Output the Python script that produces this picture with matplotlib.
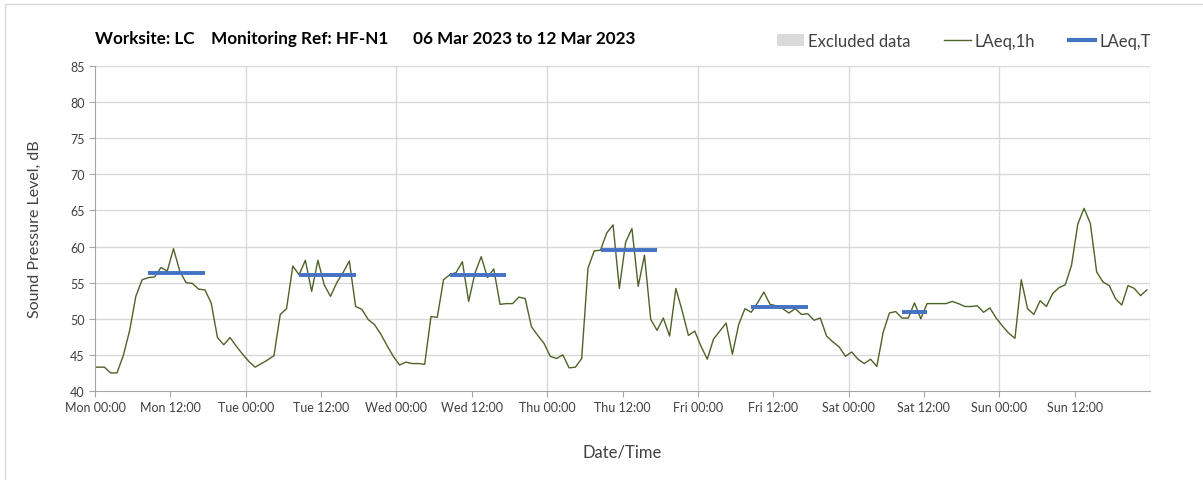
import numpy as np
import matplotlib
matplotlib.use("Agg")
from matplotlib import pyplot as plt
from matplotlib.patches import Patch, Rectangle
from matplotlib.lines import Line2D

plt.rcParams['font.family'] = ['Lato', 'DejaVu Sans']

# hourly LAeq,1h values, Mon 00:00 -> Sun 24:00 (one value per hour, plotted mid-hour)
laeq_1h = [43.3, 43.3, 43.3, 42.5, 42.5, 44.9, 48.3, 53.1, 55.4, 55.7, 55.8, 57.1, 56.6,
           59.7, 56.6, 55.0, 54.9, 54.1, 54.0, 52.2, 47.4, 46.4, 47.4, 46.2, 45.1,
           44.1, 43.3, 43.8, 44.3, 44.9, 50.6, 51.4, 57.3, 56.1, 58.1, 53.8, 58.1,
           54.7, 53.1, 55.0, 56.4, 58.0, 51.7, 51.3, 49.9, 49.2, 47.9, 46.3, 44.8,
           43.6, 44.0, 43.8, 43.8, 43.7, 50.3, 50.2, 55.4, 56.1, 56.4, 57.9, 52.4,
           56.3, 58.6, 55.7, 56.9, 52.0, 52.1, 52.1, 53.0, 52.8, 48.9, 47.7, 46.6,
           44.8, 44.5, 45.0, 43.2, 43.3, 44.5, 57.0, 59.4, 59.5, 61.9, 63.0, 54.2,
           60.6, 62.5, 54.5, 58.8, 49.9, 48.4, 50.1, 47.6, 54.2, 51.1, 47.7, 48.3,
           46.2, 44.4, 47.2, 48.3, 49.4, 45.1, 49.2, 51.4, 50.9, 52.2, 53.7, 52.0,
           51.8, 51.4, 50.8, 51.4, 50.6, 50.7, 49.8, 50.1, 47.6, 46.8, 46.1, 44.8,
           45.4, 44.4, 43.8, 44.4, 43.4, 48.1, 50.8, 51.0, 50.1, 50.1, 52.2, 50.0,
           52.1, 52.1, 52.1, 52.1, 52.4, 52.1, 51.7, 51.7, 51.8, 50.9, 51.5, 50.1,
           49.0, 48.0, 47.3, 55.4, 51.4, 50.6, 52.5, 51.7, 53.5, 54.3, 54.7, 57.4,
           63.1, 65.3, 63.2, 56.5, 55.1, 54.6, 52.8, 51.9, 54.6, 54.2, 53.2, 54.0]
hours = np.arange(len(laeq_1h)) - 0.5

# LAeq,T over the working periods (hours from Mon 00:00)
period_start = [8.5, 32.5, 56.5, 80.5, 104.5, 128.5]
period_end = [17.5, 41.5, 65.5, 89.5, 113.5, 132.5]
laeq_t = [56.3, 56.0, 56.0, 59.5, 51.7, 51.0]

days = ['Mon', 'Tue', 'Wed', 'Thu', 'Fri', 'Sat', 'Sun']
tick_labels = []
for d in days:
    tick_labels += [d + ' 00:00', d + ' 12:00']

fig = plt.figure(figsize=(12.03, 4.81), dpi=100)
ax = fig.add_axes([95 / 1203, 1 - 392 / 481, 1055 / 1203, 325 / 481])

ax.plot(hours, laeq_1h, color='#4F6228', lw=1.0)
ax.hlines(laeq_t, period_start, period_end, color='#4472C4', lw=2.8)

ax.set_xlim(0, 168)
ax.set_ylim(40, 85)
ax.set_yticks(np.arange(40, 86, 5))
ax.set_xticks(np.arange(0, 168, 12))
ax.set_xticklabels(tick_labels)
for x in range(24, 169, 24):
    ax.axvline(x, color='#D9D9D9', lw=1, zorder=0)
for y in range(45, 86, 5):
    ax.axhline(y, color='#D9D9D9', lw=1, zorder=0)

for s in ['top', 'right']:
    ax.spines[s].set_visible(False)
for s in ['left', 'bottom']:
    ax.spines[s].set_color('#A6A6A6')
ax.tick_params(colors='#A6A6A6', labelcolor='#404040', labelsize=9, length=4)

ax.set_ylabel('Sound Pressure Level, dB', fontsize=11.5, color='#404040', labelpad=20)
ax.set_xlabel('Date/Time', fontsize=12, color='#404040', labelpad=22)

fig.text(95 / 1203, 1 - 39 / 481, 'Worksite: LC    Monitoring Ref: HF-N1      06 Mar 2023 to 12 Mar 2023',
         fontsize=12.3, fontweight='bold', va='center', ha='left')

handles = [Patch(facecolor='#D9D9D9', edgecolor='none'),
           Line2D([], [], color='#4F6228', lw=1),
           Line2D([], [], color='#4472C4', lw=3)]
fig.legend(handles, ['Excluded data', 'LAeq,1h', 'LAeq,T'], ncol=3, frameon=False,
           loc='center right', bbox_to_anchor=(1166 / 1203, 1 - 42 / 481),
           fontsize=12, handlelength=1.6, handletextpad=0.25, columnspacing=2.0,
           labelcolor='#404040')

# chart area border
fig.patches.append(Rectangle((5 / 1203, -0.05), 1.1, 1 - 5 / 481 + 0.05, transform=fig.transFigure,
                             fill=False, edgecolor='#D9D9D9', lw=1))

fig.savefig('out.png', dpi=100)
